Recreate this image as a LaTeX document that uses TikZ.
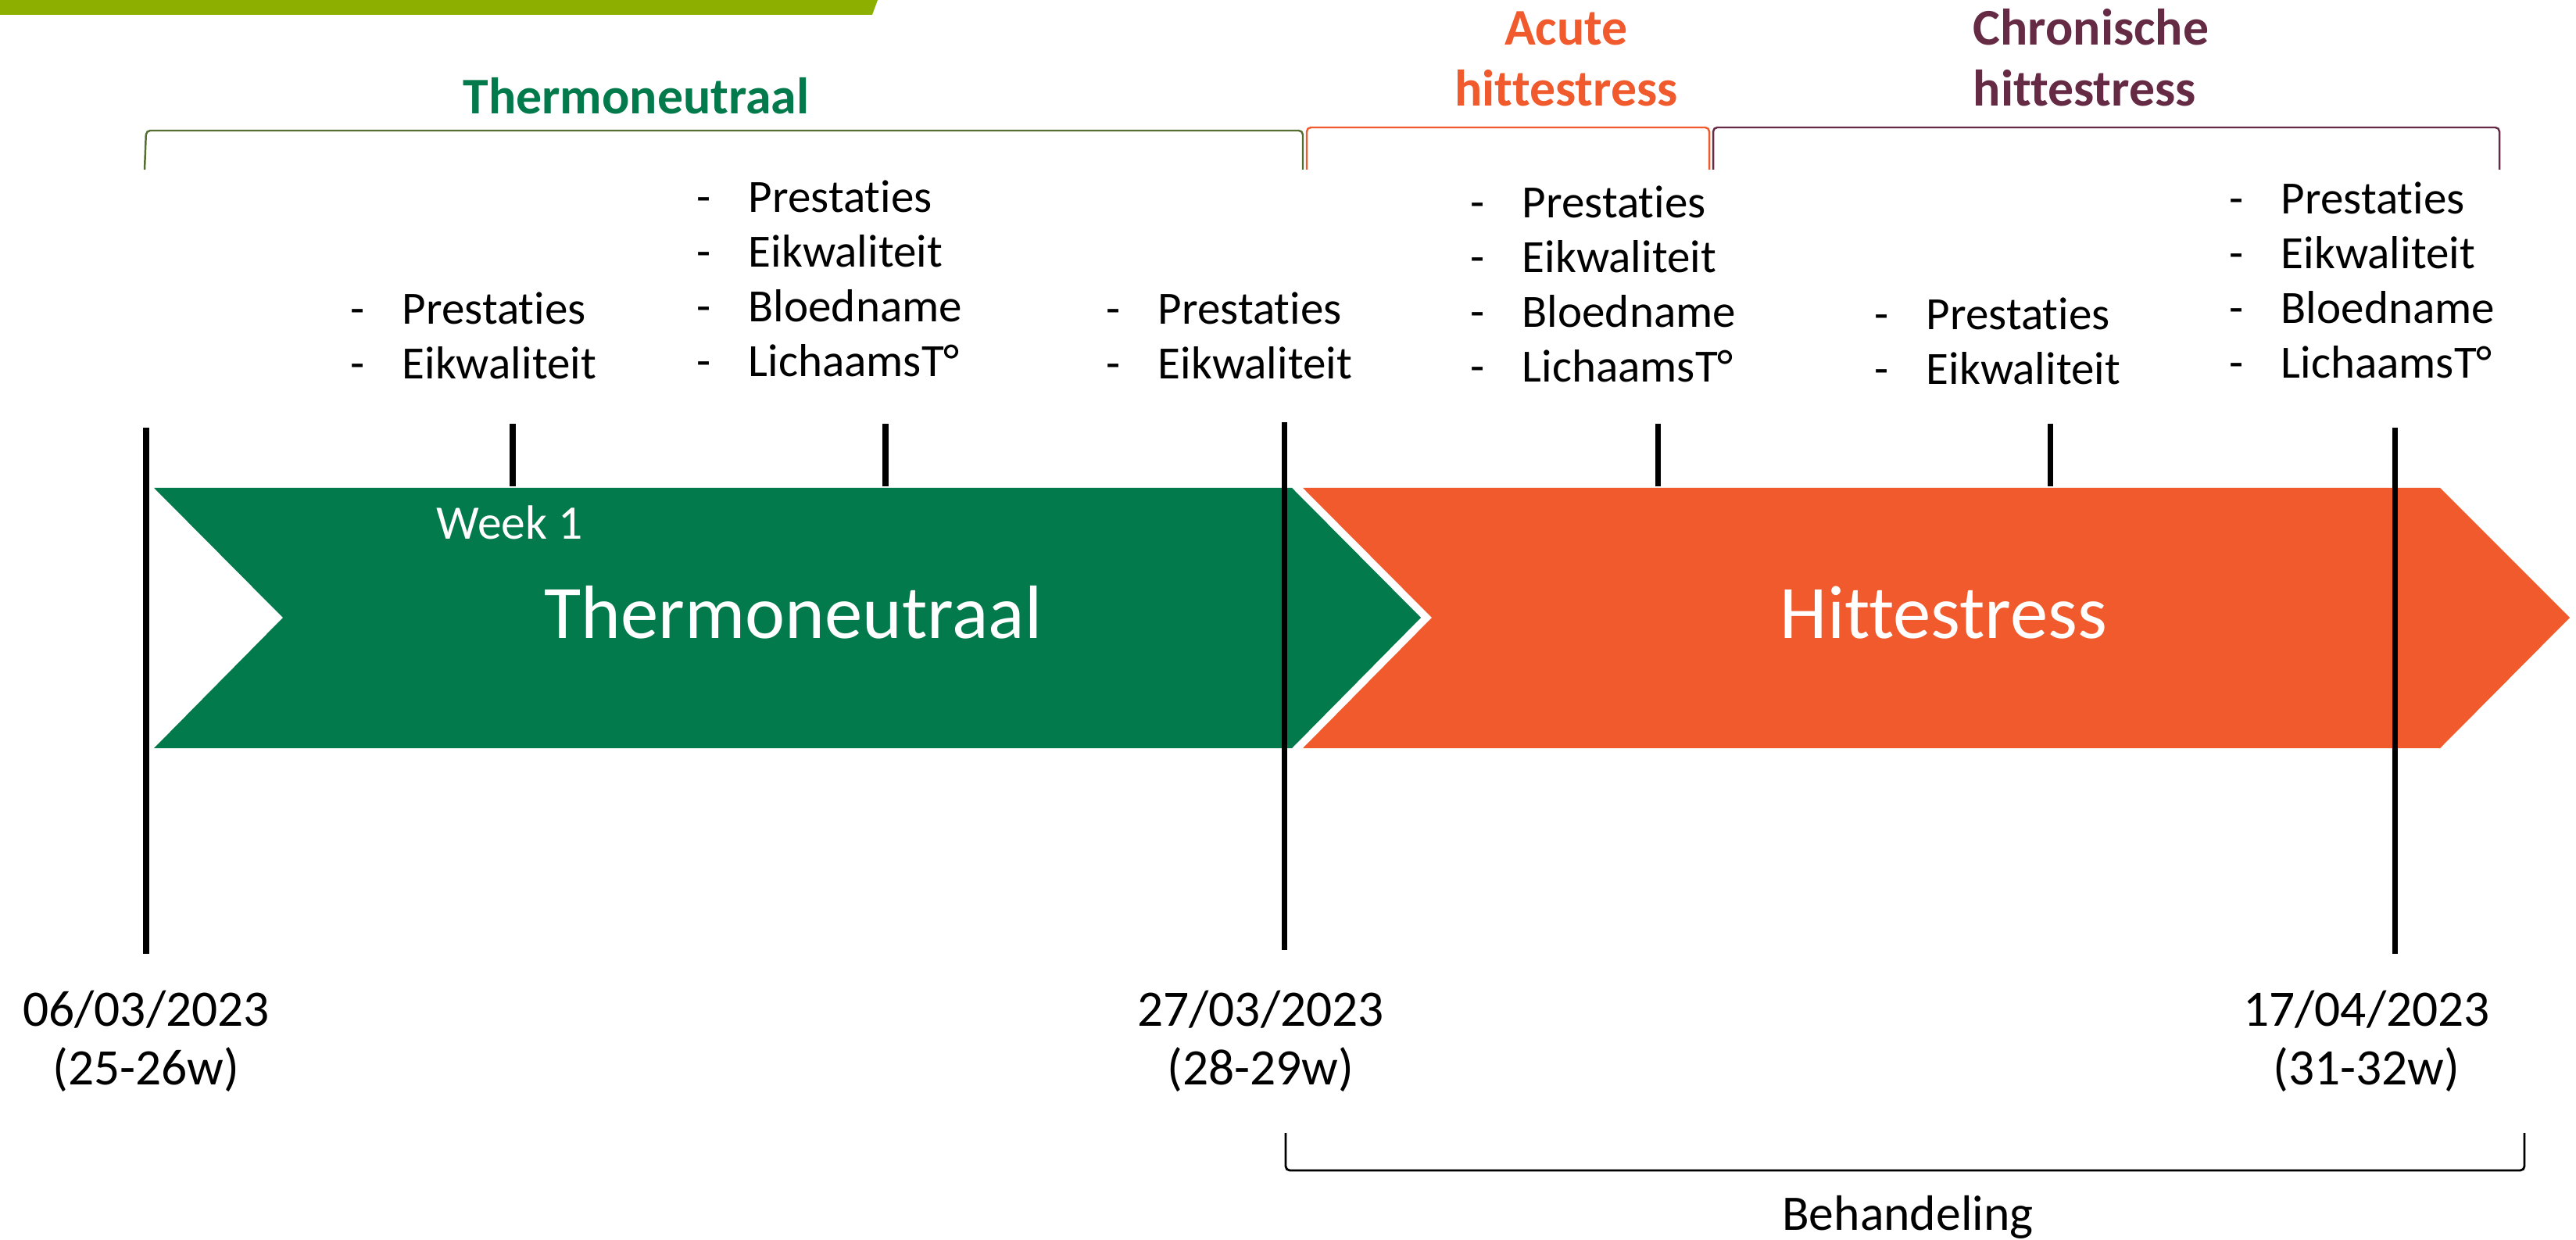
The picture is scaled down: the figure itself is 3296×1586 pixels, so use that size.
\documentclass[tikz,border=0pt]{standalone}
\usepackage{fontspec}
\setmainfont[Ligatures={NoCommon}]{Carlito}
\definecolor{limebar}{RGB}{141,176,0}
\definecolor{tngreen}{RGB}{3,122,76}
\definecolor{hsorange}{RGB}{240,90,44}
\definecolor{chpurple}{RGB}{101,42,68}
\definecolor{olivebr}{RGB}{86,110,50}
\newcommand\dd{\makebox[18.8pt][l]{-}}
\begin{document}
\begin{tikzpicture}[x=0.01cm,y=-0.01cm,
  vline/.style={line width=2pt, black},
  lst/.style={anchor=base west, inner sep=0pt, font=\fontsize{16.8}{19.9}\selectfont},
  datelbl/.style={anchor=base, inner sep=0pt, font=\fontsize{18.6}{21.6}\selectfont},
  hdr/.style={inner sep=0pt, font=\bfseries\fontsize{18.7}{21.9}\selectfont},
  big/.style={anchor=base, inner sep=0pt, text=white, font=\fontsize{27.5}{30}\selectfont},
  brk/.style={line width=0.7pt, rounded corners=1.5pt}]
\useasboundingbox (0,0) rectangle (3296,1586);
% top lime bar
\fill[limebar] (0,0) -- (1123,0) -- (1116,19) -- (0,19) -- cycle;
% chevrons
\fill[tngreen] (197,624) -- (1653,624) -- (1818,790) -- (1653,957) -- (197,957) -- (362,790) -- cycle;
\fill[hsorange] (1667,624) -- (3122,624) -- (3288,790) -- (3122,957) -- (1667,957) -- (1832,790) -- cycle;
\node[big] (tnbig) at (1015,817) {Thermoneutraal};
\node[big] (hsbig) at (2487,817) {Hittestress};
\node[anchor=base, inner sep=0pt, text=white, font=\fontsize{17.5}{20}\selectfont] (wk1) at (652,690) {Week 1};
% coordinates for lines
\coordinate (l1t) at (187,547); \coordinate (l1b) at (187,1220);
\coordinate (l2t) at (1643,540); \coordinate (l2b) at (1643,1215);
\coordinate (l3t) at (3064,547); \coordinate (l3b) at (3064,1220);
\coordinate (t1t) at (656,542); \coordinate (t1b) at (656,622);
\coordinate (t2t) at (1133,542); \coordinate (t2b) at (1133,622);
\coordinate (t3t) at (2121,542); \coordinate (t3b) at (2121,622);
\coordinate (t4t) at (2623,542); \coordinate (t4b) at (2623,622);
\draw[vline] (l1t) -- (l1b);
\draw[vline] (l2t) -- (l2b);
\draw[vline] (l3t) -- (l3b);
\draw[vline] (t1t) -- (t1b);
\draw[vline] (t2t) -- (t2b);
\draw[vline] (t3t) -- (t3b);
\draw[vline] (t4t) -- (t4b);
% brackets
\coordinate (b1a) at (185,217); \coordinate (b1b) at (187,167); \coordinate (b1c) at (1667,167); \coordinate (b1d) at (1667,217);
\coordinate (b2a) at (1672,217); \coordinate (b2b) at (1672,163); \coordinate (b2c) at (2187,163); \coordinate (b2d) at (2187,217);
\coordinate (b3a) at (2192,217); \coordinate (b3b) at (2192,163); \coordinate (b3c) at (3198,163); \coordinate (b3d) at (3198,217);
\coordinate (b4a) at (1645,1449); \coordinate (b4b) at (1645,1497); \coordinate (b4c) at (3230,1497); \coordinate (b4d) at (3230,1449);
\draw[brk, olivebr] (b1a) -- (b1b) -- (b1c) -- (b1d);
\draw[brk, hsorange] (b2a) -- (b2b) -- (b2c) -- (b2d);
\draw[brk, chpurple] (b3a) -- (b3b) -- (b3c) -- (b3d);
\draw[brk, black, line width=0.8pt] (b4a) -- (b4b) -- (b4c) -- (b4d);
% header labels
\node[hdr, anchor=base, text=tngreen] (hdrtn) at (814,146) {Thermoneutraal};
\node[hdr, anchor=base, text=hsorange] (hdrac) at (2004,58) {\begin{tabular}[t]{@{}c@{}}Acute\\hittestress\end{tabular}};
\node[hdr, anchor=base west, text=chpurple] (hdrch) at (2524,58) {\begin{tabular}[t]{@{}l@{}}Chronische\\hittestress\end{tabular}};
% measurement lists
\node[lst] (ga) at (448,415) {\begin{tabular}[t]{@{}l@{}}\dd Prestaties\\\dd Eikwaliteit\end{tabular}};
\node[lst] (gb) at (891,272) {\begin{tabular}[t]{@{}l@{}}\dd Prestaties\\\dd Eikwaliteit\\\dd Bloedname\\\dd LichaamsT°\end{tabular}};
\node[lst] (gc) at (1415,415) {\begin{tabular}[t]{@{}l@{}}\dd Prestaties\\\dd Eikwaliteit\end{tabular}};
\node[lst] (gd) at (1881,279) {\begin{tabular}[t]{@{}l@{}}\dd Prestaties\\\dd Eikwaliteit\\\dd Bloedname\\\dd LichaamsT°\end{tabular}};
\node[lst] (ge) at (2398,422) {\begin{tabular}[t]{@{}l@{}}\dd Prestaties\\\dd Eikwaliteit\end{tabular}};
\node[lst] (gf) at (2852,274) {\begin{tabular}[t]{@{}l@{}}\dd Prestaties\\\dd Eikwaliteit\\\dd Bloedname\\\dd LichaamsT°\end{tabular}};
% dates
\node[datelbl] (d1) at (187,1312) {\begin{tabular}[t]{@{}c@{}}06/03/2023\\(25-26w)\end{tabular}};
\node[datelbl] (d2) at (1613,1312) {\begin{tabular}[t]{@{}c@{}}27/03/2023\\(28-29w)\end{tabular}};
\node[datelbl] (d3) at (3028,1312) {\begin{tabular}[t]{@{}c@{}}17/04/2023\\(31-32w)\end{tabular}};
% bottom label
\node[anchor=base, inner sep=0pt, font=\fontsize{18.1}{21}\selectfont] (beh) at (2441,1573) {Behandeling};
\end{tikzpicture}
\end{document}
